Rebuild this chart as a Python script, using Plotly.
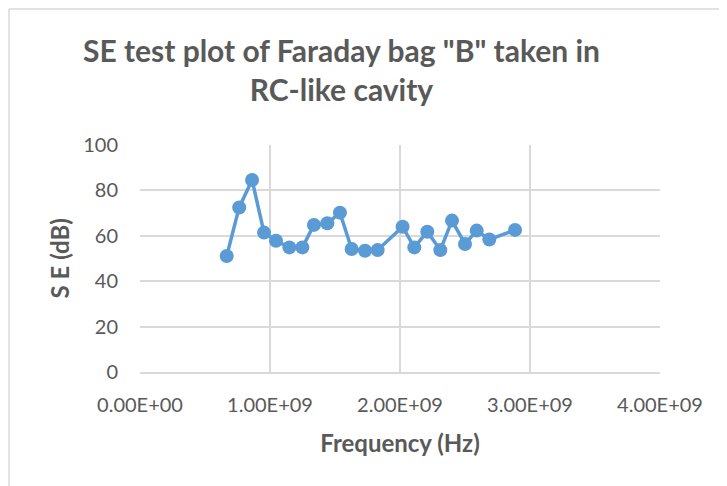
import plotly.graph_objects as go

freq_hz = [0.667e9, 0.763e9, 0.862e9, 0.954e9, 1.046e9, 1.149e9, 1.249e9, 1.338e9,
           1.441e9, 1.538e9, 1.628e9, 1.731e9, 1.828e9, 2.020e9, 2.110e9, 2.210e9,
           2.310e9, 2.400e9, 2.500e9, 2.590e9, 2.687e9, 2.885e9]
se_db = [51.1, 72.5, 84.6, 61.4, 57.8, 54.9, 54.9, 64.8, 65.5, 70.2, 54.2, 53.4,
         53.7, 64.0, 54.9, 61.8, 53.7, 66.7, 56.4, 62.3, 58.4, 62.6]

x_tickvals = [0, 1e9, 2e9, 3e9, 4e9]
x_ticktext = ["0.00E+00", "1.00E+09", "2.00E+09", "3.00E+09", "4.00E+09"]
y_tickvals = [0, 20, 40, 60, 80, 100]

FONT = "Lato"
GRAY = "#595959"

fig = go.Figure()
fig.add_trace(go.Scatter(
    x=freq_hz, y=se_db, mode="lines+markers",
    line=dict(color="#5b9bd5", width=3.5),
    marker=dict(color="#5b9bd5", size=14),
    showlegend=False,
))

fig.update_layout(
    width=727, height=486,
    margin=dict(l=132, r=75, t=137, b=122, autoexpand=False),
    paper_bgcolor="white", plot_bgcolor="white",
    font=dict(family=FONT, color=GRAY, size=20),
    title=dict(
        text="<b>SE test plot of Faraday bag \"B\" taken in<br>RC-like cavity</b>",
        x=0.4587, xanchor="center", xref="container", y=0.889, yanchor="top",
        font=dict(family=FONT, size=30, color=GRAY),
    ),
    xaxis=dict(
        range=[0, 4e9], tickvals=x_tickvals, ticktext=x_ticktext,
        showgrid=True, gridcolor="#d9d9d9", gridwidth=1.5,
        showline=True, linecolor="#d9d9d9", linewidth=1.5,
        zeroline=False, ticks="", automargin=False, ticklabelstandoff=14,
        tickfont=dict(size=20, color=GRAY, family=FONT),
        title=dict(text="<b>Frequency (Hz)</b>", font=dict(size=24, color=GRAY, family=FONT), standoff=20),
    ),
    yaxis=dict(
        range=[0, 100], tickvals=y_tickvals,
        showgrid=True, gridcolor="#d9d9d9", gridwidth=1.5,
        zeroline=False, showline=False, ticks="", automargin=False, ticklabelstandoff=21,
        tickfont=dict(size=20, color=GRAY, family=FONT),
    ),
    annotations=[
        dict(text="<b>S E (dB)</b>", xref="paper", yref="paper", x=0, y=0.5,
             xanchor="center", yanchor="middle", xshift=-81, textangle=-90,
             showarrow=False, font=dict(size=24, color=GRAY, family=FONT)),
    ],
    shapes=[
        dict(type="line", xref="paper", yref="paper", x0=-0.2519, x1=1.2, y0=1.599, y1=1.599,
             line=dict(color="#d9d9d9", width=1.5)),
        dict(type="line", xref="paper", yref="paper", x0=-0.2519, x1=-0.2519, y0=-0.6, y1=1.599,
             line=dict(color="#d9d9d9", width=1.5)),
    ],
)

fig.write_html("out.html")
